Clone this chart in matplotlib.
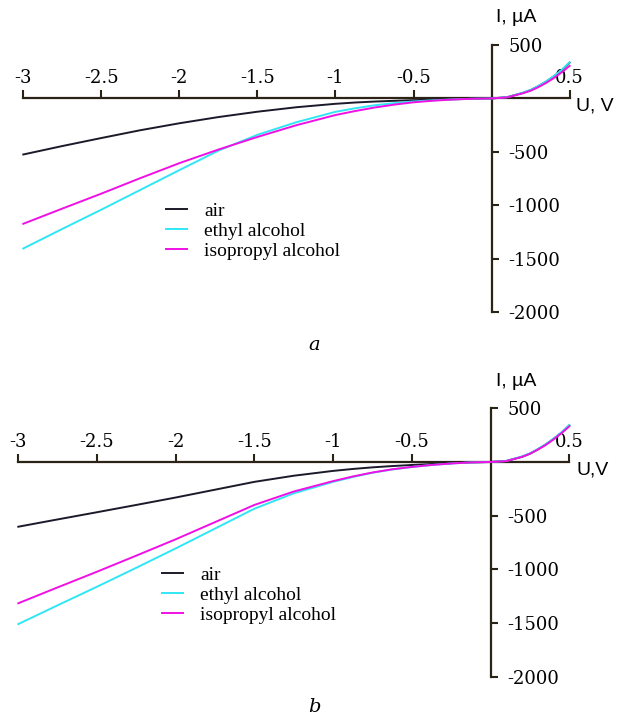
import matplotlib
matplotlib.use("Agg")
import matplotlib.pyplot as plt

plt.rcParams['axes.unicode_minus'] = False

# voltage grid the readings were taken at (V)
U = [-3, -2.75, -2.5, -2.25, -2, -1.75, -1.5, -1.25, -1, -0.875, -0.75, -0.625,
     -0.5, -0.375, -0.25, -0.125, 0, 0.1, 0.2, 0.25, 0.3, 0.35, 0.4, 0.45, 0.5]

# panel a, current in uA
air_a = [-524, -445, -370, -297, -232, -174, -124, -82, -50, -38, -29, -22,
         -16, -11, -7, -3, 0, 12, 52, 78, 115, 158, 208, 265, 335]
ethyl_a = [-1403, -1220, -1040, -855, -670, -488, -340, -222, -125, -92, -64, -44,
           -28, -17, -9, -3, 0, 12, 53, 80, 117, 160, 210, 268, 338]
iso_a = [-1172, -1030, -890, -745, -605, -478, -360, -250, -155, -118, -85, -58,
         -36, -21, -10, -3, 0, 10, 48, 72, 106, 146, 192, 245, 305]

# panel b, current in uA
air_b = [-603, -535, -468, -400, -331, -258, -185, -128, -83, -65, -50, -38,
         -28, -19, -11, -4, 0, 10, 48, 78, 118, 163, 215, 272, 340]
ethyl_b = [-1510, -1335, -1162, -985, -805, -620, -435, -292, -185, -140, -100, -70,
           -47, -28, -14, -4, 0, 9, 52, 80, 120, 165, 218, 276, 345]
iso_b = [-1316, -1168, -1022, -872, -720, -560, -400, -275, -178, -135, -98, -68,
         -46, -28, -14, -4, 0, 8, 48, 76, 115, 158, 210, 268, 332]

labels = ['air', 'ethyl alcohol', 'isopropyl alcohol']
colors = ['#1b1a2a', '#30e6f4', '#f010e6']

xticks = [-3, -2.5, -2, -1.5, -1, -0.5, 0.5]
xticklabels = ['-3', '-2.5', '-2', '-1.5', '-1', '-0.5', '0.5']
yticks = [500, -500, -1000, -1500, -2000]
yticklabels = ['500', '-500', '-1000', '-1500', '-2000']

W, H = 617, 715
fig = plt.figure(figsize=(W / 100, H / 100), dpi=100)

axis_col = '#2b2416'
tick_font = dict(family='DejaVu Serif', size=13)


def draw_panel(rect, series, xlab, ylab_xy, xlab_xy, leg_xy, letter_xy, letter):
    ax = fig.add_axes(rect)
    for s, lab, c in zip(series, labels, colors):
        ax.plot(U, s, color=c, lw=1.4, label=lab, clip_on=False)
    ax.set_xlim(-3, 0.5)
    ax.set_ylim(-2000, 500)
    ax.patch.set_alpha(0)

    ax.spines['left'].set_visible(False)
    ax.spines['bottom'].set_visible(False)
    ax.spines['top'].set_position(('data', 0))
    ax.spines['right'].set_position(('data', 0))
    for k in ['top', 'right']:
        ax.spines[k].set_color(axis_col)
        ax.spines[k].set_linewidth(1.6)
        ax.spines[k].set_zorder(1)

    ax.xaxis.set_ticks_position('top')
    ax.yaxis.set_ticks_position('right')
    ax.set_xticks(xticks)
    ax.set_xticklabels(xticklabels, fontdict=tick_font)
    ax.set_yticks(yticks)
    ax.set_yticklabels(yticklabels, fontdict=tick_font, ha='left')
    ax.tick_params(axis='x', direction='out', length=6, width=1.5, pad=2, color=axis_col)
    ax.tick_params(axis='y', direction='out', length=5, width=1.5, pad=7, color=axis_col)

    fig.text(xlab_xy[0] / W, 1 - xlab_xy[1] / H, xlab, family='Liberation Sans',
             size=14, va='center', ha='left')
    fig.text(ylab_xy[0] / W, 1 - ylab_xy[1] / H, 'I, \u00b5A', family='Liberation Sans',
             size=14, va='center', ha='left')

    ax.legend(loc='upper left', bbox_to_anchor=(leg_xy[0] / W, 1 - leg_xy[1] / H),
              bbox_transform=fig.transFigure, frameon=False,
              prop=dict(family='Liberation Serif', size=14),
              handlelength=1.1, handletextpad=0.85, labelspacing=0.12,
              borderpad=0, borderaxespad=0)

    fig.text(letter_xy[0] / W, 1 - letter_xy[1] / H, letter, family='DejaVu Serif',
             style='italic', size=14, ha='center', va='center')
    return ax


draw_panel([23.3 / W, 1 - 312.3 / H, 546.3 / W, 267.3 / H],
           [air_a, ethyl_a, iso_a], 'U, V', (496, 18), (576, 106),
           (166, 202), (314, 345), 'a')
draw_panel([18.3 / W, 1 - 676.7 / H, 551 / W, 268.4 / H],
           [air_b, ethyl_b, iso_b], 'U,V', (496, 381), (576, 470),
           (162, 566), (314, 707), 'b')

fig.savefig('out.png', dpi=100)
